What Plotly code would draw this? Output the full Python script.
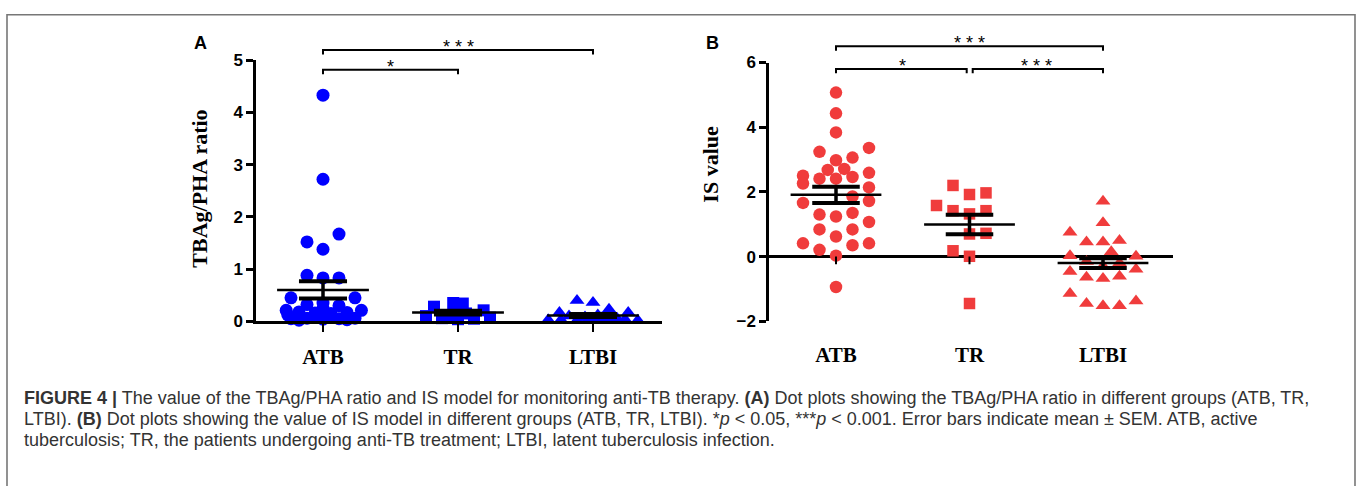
import plotly.graph_objects as go

W, H = 1357, 486

groups = ["ATB", "TR", "LTBI"]

# ---------------- Panel A: TBAg/PHA ratio ----------------
a_atb = [4.33, 2.72, 1.52, 1.67, 1.38, 0.88, 0.83, 0.83, 0.45, 0.45, 0.21, 0.21,
         0.32, 0.35, 0.30, 0.18, 0.16, 0.15, 0.17, 0.05, 0.06, 0.04, 0.05, 0.06,
         0.10, 0.09, 0.12, 0.25, 0.02, 0.03]
a_atb_col = [0, 0, -1, 1, 0, -1, 0, 1, -2, 2, -2.3, 2.4,
             -1, 0, 1, -1.5, -0.5, 0.5, 1.5, -2, -1, 0, 1, 2,
             -0.5, 0.5, -2.2, 0, -1.5, 1.5]
a_tr = [0.28, 0.35, 0.34, 0.25, 0.21, 0.10, 0.06, 0.04, 0.05, 0.07, 0.15, 0.12]
a_tr_col = [-1.5, -0.3, 0.3, 0, 1.6, -2, -1, 0, 1, 2, 0.5, -0.5]
a_ltbi = [0.40, 0.36, 0.23, 0.17, 0.17, 0.10, 0.08, 0.07, 0.06, 0.03, 0.02,
          0.02, 0.03, 0.04, 0.12, 0.05, 0.02, 0.03]
a_ltbi_col = [-1, 0, 1, 2.2, -2.1, -1.5, -0.5, 0.5, 1.5, -2, -1,
              0, 1, 2, 0.3, -0.3, 2.8, -2.8]
a_mean = [0.60, 0.167, 0.11]
a_sem = [0.165, 0.035, 0.03]
a_ticks = [0, 1, 2, 3, 4, 5]

# ---------------- Panel B: IS value ----------------
b_atb = [5.07, 4.43, 3.84, 3.24, 3.36, 2.98, 3.06, 2.68, 2.71, 2.50, 2.26, 2.41,
         2.41, 2.46, 2.59, 2.14, 1.66, 1.72, 1.86, 1.30, 1.24, 1.35, 1.07, 0.84,
         0.84, 0.62, 0.41, 0.35, 0.41, 0.21, 0.03, -0.94]
b_atb_col = [0, 0, 0, -1, 2, 0, 1, -0.5, 0.5, -2, -2, -1,
             0, 1, 2, 2, -2, 2, 1, -1, 0, 1, 2, -1,
             1, 0, -2, 1, 2, -1, 0, 0]
b_tr = [2.20, 1.92, 1.97, 1.58, 1.42, 1.32, 1.42, 0.70, 0.72, 0.18, 0.01, -1.45]
b_tr_col = [-1, 0, 1, -2, -1, 0, 1, 0, 1, -1, 0, 0]
b_ltbi = [1.71, 1.05, 0.75, 0.45, 0.45, 0.50, 0.03, 0.15, 0.01, -0.46, -0.39,
          -0.64, -0.68, -0.61, -1.14, -1.45, -1.52, -1.52, -1.37, -0.15, -0.20, -0.30]
b_ltbi_col = [0, 0, -2, -1, 0, 1, -2, 0.5, 2, -2, 2,
              -1, 0, 1, -2, -1, 0, 1, 2, -1, 1, 0]
b_mean = [1.91, 0.99, -0.20]
b_sem = [0.25, 0.30, 0.15]
b_ticks = [-2, 0, 2, 4, 6]

# ---------------- geometry (pixels) ----------------
A_PX = (256, 662); A_PY = (325, 53.3); A_C0, A_STEP = 323, 135
B_PX = (769, 1173); B_PY = (325, 55.7); B_C0, B_STEP = 836, 133.5
A_XR = [(A_PX[0] - A_C0) / A_STEP, (A_PX[1] - A_C0) / A_STEP]
B_XR = [(B_PX[0] - B_C0) / B_STEP, (B_PX[1] - B_C0) / B_STEP]
A_YR = [0, 5]
B_YR = [-2, 6]
A_COLW = 16 / A_STEP
B_COLW = 16.5 / B_STEP

BLUE = "#0000FF"
RED = "#F03C3C"


def px(xp):
    return xp / W


def py(yp):
    return 1 - yp / H


def mapper(pxr, pyr, xr, yr):
    def fx(v):
        return px(pxr[0] + (v - xr[0]) / (xr[1] - xr[0]) * (pxr[1] - pxr[0]))

    def fy(v, shift=0):
        return py(pyr[0] + (v - yr[0]) / (yr[1] - yr[0]) * (pyr[1] - pyr[0]) + shift)
    return fx, fy


fig = go.Figure()


def add_points(vals, cols, gi, colw, sym, size, color, xa, ya):
    fig.add_trace(go.Scatter(
        x=[gi + c * colw for c in cols], y=vals, mode="markers",
        marker=dict(symbol=sym, size=size, color=color, line=dict(width=0)),
        cliponaxis=False, xaxis=xa, yaxis=ya, showlegend=False, hoverinfo="skip"))


def add_stats(mean, sem, xa, ya, mw=0.34, cw=0.178):
    mx, my, cx, cy, vx, vy = [], [], [], [], [], []
    for i, (m, s) in enumerate(zip(mean, sem)):
        mx += [i - mw, i + mw, None]; my += [m, m, None]
        cx += [i - cw, i + cw, None, i - cw, i + cw, None]
        cy += [m + s, m + s, None, m - s, m - s, None]
        vx += [i, i, None]; vy += [m - s, m + s, None]
    for xx, yy, w in [(mx, my, 2.5), (cx, cy, 4), (vx, vy, 3.5)]:
        fig.add_trace(go.Scatter(x=xx, y=yy, mode="lines", line=dict(color="black", width=w),
                                 xaxis=xa, yaxis=ya, showlegend=False, hoverinfo="skip",
                                 cliponaxis=False))


# Panel A points
add_points(a_atb, a_atb_col, 0, A_COLW, "circle", 13, BLUE, "x", "y")
add_points(a_tr, a_tr_col, 1, A_COLW, "square", 12, BLUE, "x", "y")
add_points(a_ltbi, a_ltbi_col, 2, A_COLW, "triangle-up", 13, BLUE, "x", "y")
add_stats(a_mean, a_sem, "x", "y")

# Panel B points
add_points(b_atb, b_atb_col, 0, B_COLW, "circle", 12.5, RED, "x2", "y2")
add_points(b_tr, b_tr_col, 1, B_COLW, "square", 11.5, RED, "x2", "y2")
add_points(b_ltbi, b_ltbi_col, 2, B_COLW, "triangle-up", 13, RED, "x2", "y2")
add_stats(b_mean, b_sem, "x2", "y2")

tickfont = dict(family="Liberation Sans", size=17, color="black", weight="bold")
catfont = dict(family="Liberation Serif", size=21, color="black", weight="bold")

fig.update_layout(
    width=W, height=H, margin=dict(l=0, r=0, t=0, b=0),
    paper_bgcolor="white", plot_bgcolor="rgba(0,0,0,0)",
    xaxis=dict(domain=[px(A_PX[0]), px(A_PX[1])], range=A_XR, showgrid=False, zeroline=False,
               showline=True, linecolor="black", linewidth=2.5,
               ticks="outside", ticklen=8, tickwidth=2, tickcolor="black",
               tickvals=[0, 1, 2], ticktext=groups, tickfont=catfont, ticklabelstandoff=7,
               anchor="y"),
    yaxis=dict(domain=[py(A_PY[0]), py(A_PY[1])], range=A_YR, showgrid=False, zeroline=False,
               showline=True, linecolor="black", linewidth=2.5,
               ticks="outside", ticklen=7, tickwidth=2.5, tickcolor="black",
               tickvals=a_ticks, tickfont=tickfont, anchor="x"),
    xaxis2=dict(domain=[px(B_PX[0]), px(B_PX[1])], range=B_XR, showgrid=False, zeroline=False,
                showline=False, ticks="", tickvals=[0, 1, 2], ticktext=groups, tickfont=catfont,
                ticklabelstandoff=19, anchor="y2"),
    yaxis2=dict(domain=[py(B_PY[0]), py(B_PY[1])], range=B_YR, showgrid=False,
                zeroline=True, zerolinecolor="black", zerolinewidth=2.5,
                showline=True, linecolor="black", linewidth=2.5,
                ticks="outside", ticklen=7, tickwidth=2.5, tickcolor="black",
                tickvals=b_ticks, tickfont=tickfont, anchor="x2"),
)

shapes = []
annotations = []

# frame
shapes.append(dict(type="rect", xref="paper", yref="paper", x0=px(7), x1=px(1355),
                   y0=py(6), y1=py(500), line=dict(color="#777777", width=1.6)))

# significance brackets
fxA, fyA = mapper(A_PX, A_PY, A_XR, A_YR)
fxB, fyB = mapper(B_PX, B_PY, B_XR, B_YR)


def bracket(fx, fy, x0, x1, yv, drop):
    return dict(type="path", xref="paper", yref="paper",
                path=f"M {fx(x0)},{fy(yv - drop)} L {fx(x0)},{fy(yv)} L {fx(x1)},{fy(yv)} L {fx(x1)},{fy(yv - drop)}",
                line=dict(color="black", width=2))


def star(fx, fy, xv, yv, txt):
    return dict(x=fx(xv), y=fy(yv, -3), xref="paper", yref="paper", text=txt, showarrow=False,
                xanchor="center", yanchor="middle",
                font=dict(family="Liberation Sans", size=18, color="black"))


shapes += [bracket(fxA, fyA, 0, 2, 5.195, 0.085), bracket(fxA, fyA, 0, 1, 4.816, 0.085),
           bracket(fxB, fyB, 0, 2, 6.50, 0.135), bracket(fxB, fyB, 0, 0.979, 5.80, 0.135),
           bracket(fxB, fyB, 1.024, 2, 5.80, 0.135)]
annotations += [star(fxA, fyA, 1, 5.195, "* * *"), star(fxA, fyA, 0.5, 4.816, "*"),
                star(fxB, fyB, 1, 6.50, "* * *"), star(fxB, fyB, 0.5, 5.80, "*"),
                star(fxB, fyB, 1.5, 5.80, "* * *")]

# small category ticks under the zero line in B
for i in range(len(groups)):
    shapes.append(dict(type="line", xref="x2", yref="y2", x0=i, x1=i, y0=0, y1=-0.24,
                       line=dict(color="black", width=2)))

# panel letters
annotations += [
    dict(x=px(200), y=py(35), xref="paper", yref="paper", text="<b>A</b>", showarrow=False,
         xanchor="center", yanchor="middle", font=dict(family="Liberation Sans", size=18, color="black")),
    dict(x=px(712), y=py(35), xref="paper", yref="paper", text="<b>B</b>", showarrow=False,
         xanchor="center", yanchor="middle", font=dict(family="Liberation Sans", size=18, color="black")),
]

# y-axis titles
annotations += [
    dict(x=px(200), y=py(187), xref="paper", yref="paper", text="<b>TBAg/PHA ratio</b>",
         textangle=-90, showarrow=False, xanchor="center", yanchor="middle",
         font=dict(family="Liberation Serif", size=22, color="black")),
    dict(x=px(711), y=py(162), xref="paper", yref="paper", text="<b>IS value</b>",
         textangle=-90, showarrow=False, xanchor="center", yanchor="middle",
         font=dict(family="Liberation Serif", size=22, color="black")),
]

# caption
caption_lines = [
    "<b>FIGURE 4 |</b> The value of the TBAg/PHA ratio and IS model for monitoring anti-TB therapy. "
    "<b>(A)</b> Dot plots showing the TBAg/PHA ratio in different groups (ATB, TR,",
    "LTBI). <b>(B)</b> Dot plots showing the value of IS model in different groups (ATB, TR, LTBI). "
    "*<i>p</i> &lt; 0.05, ***<i>p</i> &lt; 0.001. Error bars indicate mean ± SEM. ATB, active",
    "tuberculosis; TR, the patients undergoing anti-TB treatment; LTBI, latent tuberculosis infection.",
]
for k, line in enumerate(caption_lines):
    annotations.append(dict(x=px(22), y=py(405 + 22 * k), xref="paper", yref="paper", text=line,
                            showarrow=False, xanchor="left", yanchor="middle",
                            font=dict(family="Liberation Sans", size=18, color="#333333")))

fig.update_layout(shapes=shapes, annotations=annotations)
fig.write_html("out.html")
